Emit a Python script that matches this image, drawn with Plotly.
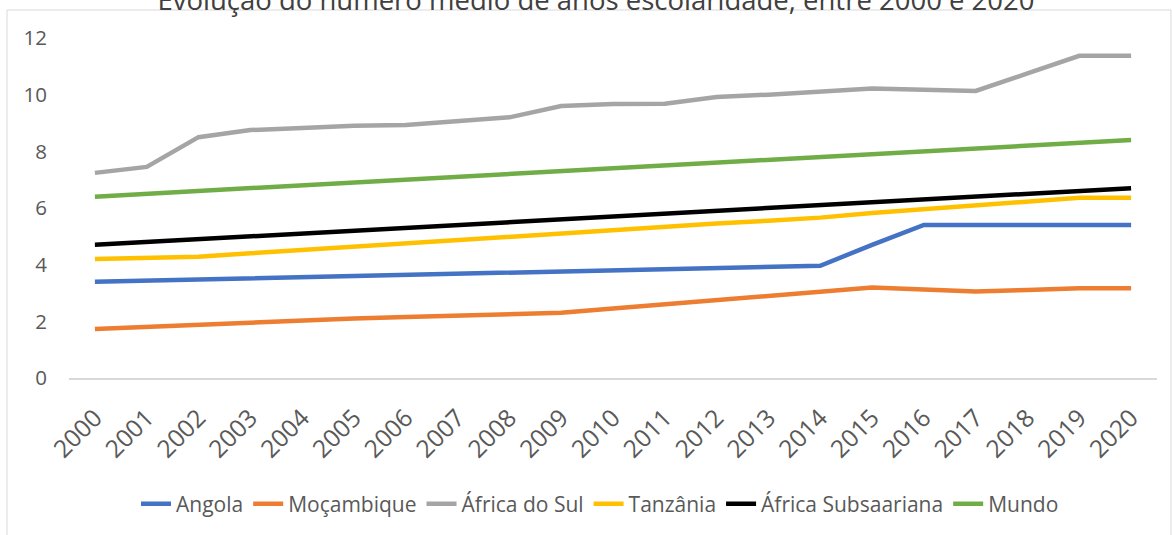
import plotly.graph_objects as go

years = [str(y) for y in range(2000, 2021)]

angola = [3.40, 3.44, 3.48, 3.52, 3.56, 3.60, 3.64, 3.68, 3.72, 3.76, 3.80,
          3.84, 3.88, 3.92, 3.96, 4.70, 5.40, 5.40, 5.40, 5.40, 5.40]
mocambique = [1.73, 1.81, 1.89, 1.96, 2.03, 2.10, 2.15, 2.20, 2.25, 2.30, 2.45,
              2.60, 2.75, 2.90, 3.03, 3.19, 3.12, 3.05, 3.11, 3.17, 3.17]
africa_sul = [7.24, 7.45, 8.50, 8.75, 8.82, 8.90, 8.93, 9.07, 9.20, 9.60, 9.67,
              9.68, 9.92, 10.00, 10.10, 10.22, 10.17, 10.13, 10.75, 11.37, 11.37]
tanzania = [4.20, 4.24, 4.28, 4.40, 4.52, 4.64, 4.76, 4.88, 5.00, 5.10, 5.22,
            5.33, 5.45, 5.55, 5.66, 5.82, 5.95, 6.08, 6.22, 6.36, 6.36]
africa_subs = [4.70, 4.80, 4.90, 5.00, 5.10, 5.20, 5.30, 5.40, 5.50, 5.60, 5.70,
               5.80, 5.90, 6.00, 6.10, 6.20, 6.30, 6.40, 6.50, 6.60, 6.70]
mundo = [6.40, 6.50, 6.60, 6.70, 6.80, 6.90, 7.00, 7.10, 7.20, 7.30, 7.40,
         7.50, 7.60, 7.70, 7.80, 7.90, 8.00, 8.10, 8.20, 8.30, 8.40]

series_names = ["Angola", "Moçambique", "África do Sul", "Tanzânia",
                "África Subsaariana", "Mundo"]
series_values = [angola, mocambique, africa_sul, tanzania, africa_subs, mundo]
series_colors = ["#4472C4", "#ED7D31", "#A5A5A5", "#FFC000", "#000000", "#70AD47"]

title_text = "Evolução do número médio de anos escolaridade, entre 2000 e 2020"
font_family = "Open Sans, Noto Sans, sans-serif"

fig = go.Figure()
for name, vals, col in zip(series_names, series_values, series_colors):
    fig.add_trace(go.Scatter(
        x=years, y=vals, name=name, mode="lines",
        line=dict(color=col, width=4.5),
    ))

W, H = 1172, 535
ml, mr, mt, mb = 69, 15, 38, 157
pw, ph = W - ml - mr, H - mt - mb


def px2paper_x(px):
    return (px - ml) / pw


def px2paper_y(py):
    return (H - mb - py) / ph


fig.add_shape(type="rect", xref="paper", yref="paper",
              x0=px2paper_x(7), x1=px2paper_x(1171),
              y0=px2paper_y(560), y1=px2paper_y(10),
              line=dict(color="#D9D9D9", width=1), fillcolor="rgba(0,0,0,0)",
              layer="below")

fig.update_layout(
    width=W, height=H,
    margin=dict(l=ml, r=mr, t=mt, b=mb),
    paper_bgcolor="white", plot_bgcolor="white",
    font=dict(family=font_family, color="#595959", size=20),
    title=dict(text=title_text, x=596 / W, xanchor="center",
               y=1 - 10 / H, yanchor="bottom", yref="container",
               font=dict(size=27.5, color="#404040")),
    showlegend=True,
    legend=dict(orientation="h", xref="container", yref="container",
                x=600 / W, xanchor="center", y=1 - 504 / H, yanchor="middle",
                font=dict(size=21, color="#595959"),
                itemwidth=30, tracegroupgap=0),
    xaxis=dict(type="category", range=[-0.5, 20.5], showgrid=False,
               showline=True, linecolor="#D9D9D9", linewidth=1.5,
               tickangle=-45, ticks="", ticklabelstandoff=14,
               tickfont=dict(size=24.5, color="#595959"), zeroline=False),
    yaxis=dict(range=[0, 12], tickvals=[0, 2, 4, 6, 8, 10, 12],
               showgrid=False, zeroline=False, showline=False, ticks="",
               ticklabelstandoff=21,
               tickfont=dict(size=20.5, color="#595959")),
)

fig.write_html("out.html")
